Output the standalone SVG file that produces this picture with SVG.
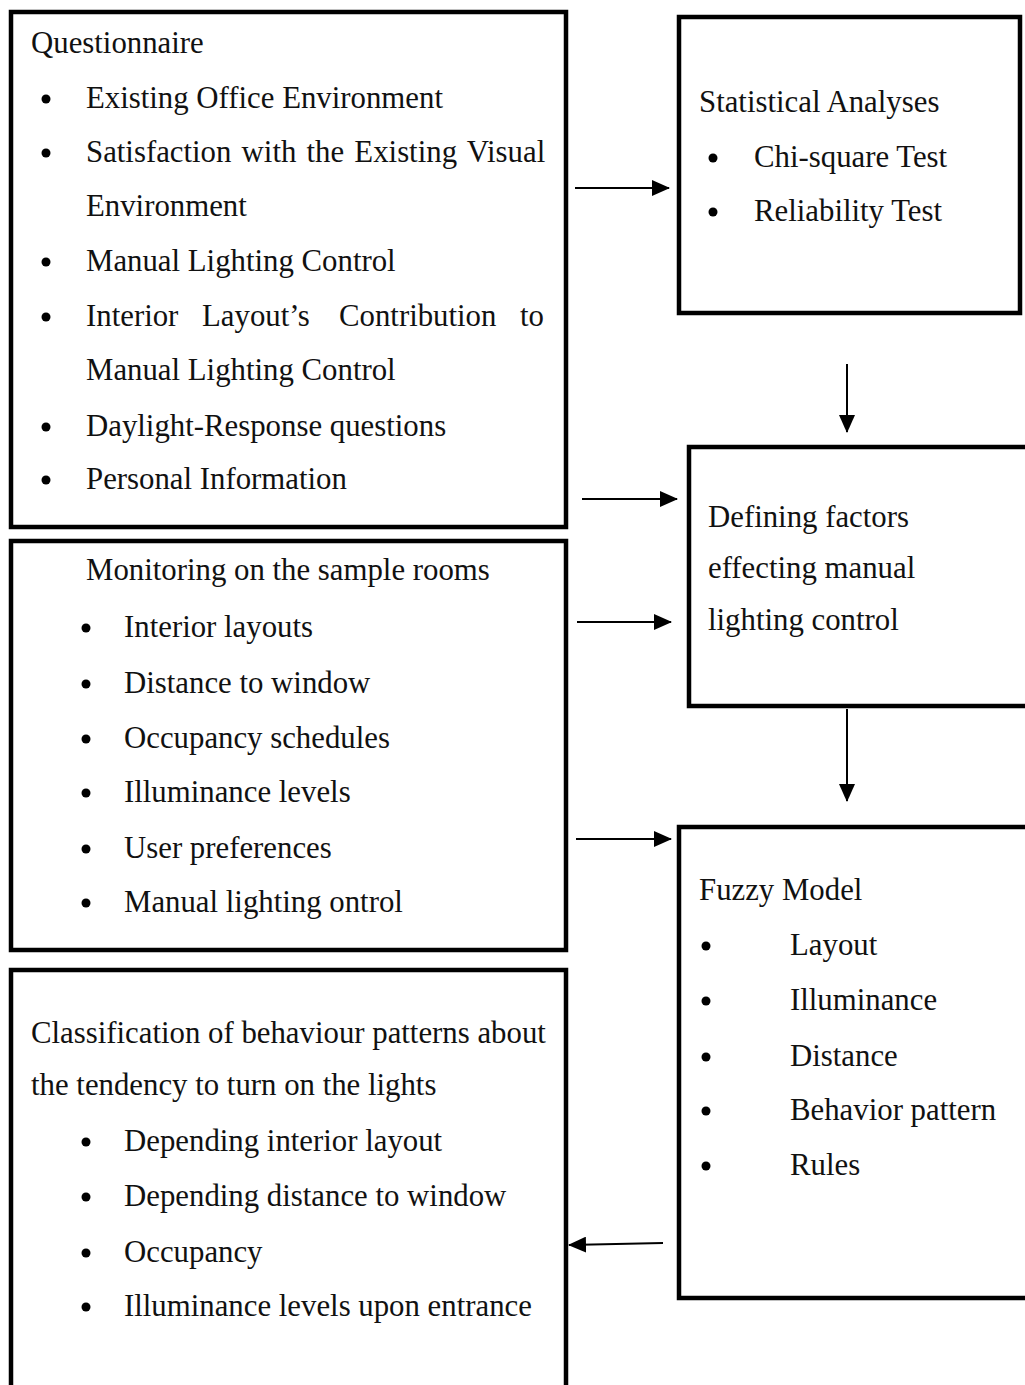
<svg xmlns="http://www.w3.org/2000/svg" width="1025" height="1385" viewBox="0 0 1025 1385">
<defs>
<style>
.box{fill:none;stroke:#000;stroke-width:4.5}
.t{font-family:"Liberation Serif","Times New Roman",serif;font-size:30.8px;fill:#111}
.b{fill:#000}
.c{stroke:#000;stroke-width:2;fill:none;marker-end:url(#ah)}
</style>
<marker id="ah" markerUnits="userSpaceOnUse" markerWidth="18" markerHeight="16" refX="17" refY="8" orient="auto">
<path d="M0,0 L18,8 L0,16 Z" fill="#000"/>
</marker>
</defs>
<rect width="1025" height="1385" fill="#fff"/>

<g id="questionnaire">
<rect class="box" x="11" y="12" width="555" height="515"/>
<text class="t" x="31" y="53">Questionnaire</text>
<circle class="b" cx="46" cy="99" r="4.5"/>
<text class="t" x="86" y="108">Existing Office Environment</text>
<circle class="b" cx="46" cy="153" r="4.5"/>
<text class="t" x="86" y="162" style="word-spacing:2.5px">Satisfaction with the Existing Visual</text>
<text class="t" x="86" y="216">Environment</text>
<circle class="b" cx="46" cy="262" r="4.5"/>
<text class="t" x="86" y="271">Manual Lighting Control</text>
<circle class="b" cx="46" cy="317" r="4.5"/>
<text class="t" y="326"><tspan x="86">Interior</tspan><tspan x="202">Layout’s</tspan><tspan x="339">Contribution</tspan><tspan x="520">to</tspan></text>
<text class="t" x="86" y="380">Manual Lighting Control</text>
<circle class="b" cx="46" cy="427" r="4.5"/>
<text class="t" x="86" y="436">Daylight-Response questions</text>
<circle class="b" cx="46" cy="480" r="4.5"/>
<text class="t" x="86" y="489">Personal Information</text>
</g>

<g id="statistical">
<rect class="box" x="679" y="17" width="341" height="296"/>
<text class="t" x="699" y="112">Statistical Analyses</text>
<circle class="b" cx="713" cy="158" r="4.5"/>
<text class="t" x="754" y="167">Chi-square Test</text>
<circle class="b" cx="713" cy="212" r="4.5"/>
<text class="t" x="754" y="221">Reliability Test</text>
</g>

<g id="defining">
<rect class="box" x="689" y="447" width="400" height="259"/>
<text class="t" x="708" y="527">Defining factors</text>
<text class="t" x="708" y="578">effecting manual</text>
<text class="t" x="708" y="630">lighting control</text>
</g>

<g id="monitoring">
<rect class="box" x="11" y="541" width="555" height="409"/>
<text class="t" x="86" y="580">Monitoring on the sample rooms</text>
<circle class="b" cx="86" cy="628" r="4.5"/>
<text class="t" x="124" y="637">Interior layouts</text>
<circle class="b" cx="86" cy="684" r="4.5"/>
<text class="t" x="124" y="693">Distance to window</text>
<circle class="b" cx="86" cy="739" r="4.5"/>
<text class="t" x="124" y="748">Occupancy schedules</text>
<circle class="b" cx="86" cy="793" r="4.5"/>
<text class="t" x="124" y="802">Illuminance levels</text>
<circle class="b" cx="86" cy="849" r="4.5"/>
<text class="t" x="124" y="858">User preferences</text>
<circle class="b" cx="86" cy="903" r="4.5"/>
<text class="t" x="124" y="912">Manual lighting ontrol</text>
</g>

<g id="fuzzy">
<rect class="box" x="679" y="827" width="400" height="471"/>
<text class="t" x="699" y="900">Fuzzy Model</text>
<circle class="b" cx="706" cy="946" r="4.5"/>
<text class="t" x="790" y="955">Layout</text>
<circle class="b" cx="706" cy="1001" r="4.5"/>
<text class="t" x="790" y="1010">Illuminance</text>
<circle class="b" cx="706" cy="1057" r="4.5"/>
<text class="t" x="790" y="1066">Distance</text>
<circle class="b" cx="706" cy="1111" r="4.5"/>
<text class="t" x="790" y="1120">Behavior pattern</text>
<circle class="b" cx="706" cy="1166" r="4.5"/>
<text class="t" x="790" y="1175">Rules</text>
</g>

<g id="classification">
<path class="box" d="M11,1395 L11,970 L566,970 L566,1395"/>
<text class="t" x="31" y="1043">Classification of behaviour patterns about</text>
<text class="t" x="31" y="1095">the tendency to turn on the lights</text>
<circle class="b" cx="86" cy="1142" r="4.5"/>
<text class="t" x="124" y="1151">Depending interior layout</text>
<circle class="b" cx="86" cy="1197" r="4.5"/>
<text class="t" x="124" y="1206">Depending distance to window</text>
<circle class="b" cx="86" cy="1253" r="4.5"/>
<text class="t" x="124" y="1262">Occupancy</text>
<circle class="b" cx="86" cy="1307" r="4.5"/>
<text class="t" x="124" y="1316">Illuminance levels upon entrance</text>
</g>

<g id="connectors">
<line class="c" x1="575" y1="188" x2="669" y2="188"/>
<line class="c" x1="847" y1="364" x2="847" y2="432"/>
<line class="c" x1="582" y1="499" x2="677" y2="499"/>
<line class="c" x1="577" y1="622" x2="671" y2="622"/>
<line class="c" x1="847" y1="709" x2="847" y2="801"/>
<line class="c" x1="576" y1="839" x2="671" y2="839"/>
<line class="c" x1="663" y1="1243" x2="569" y2="1245"/>
</g>
</svg>
